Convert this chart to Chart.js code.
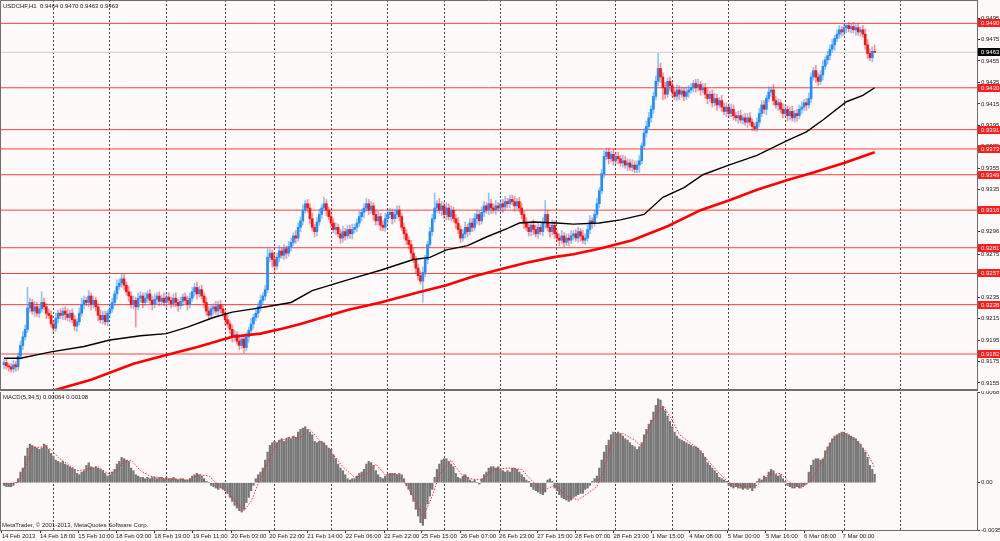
<!DOCTYPE html>
<html>
<head>
<meta charset="utf-8">
<script src="https://cdn.jsdelivr.net/npm/chart.js@4.4.1/dist/chart.umd.min.js"></script>
<style>
html, body { margin: 0; padding: 0; background: #fffafa; }
#wrap { position: relative; width: 1000px; height: 541px; overflow: hidden; }
#topBox { position: absolute; left: 0; top: 0; width: 1000px; height: 391px; }
#botBox { position: absolute; left: 0; top: 391px; width: 1000px; height: 150px; }
</style>
</head>
<body>
<div id="wrap">
  <div id="topBox"><canvas id="price"></canvas></div>
  <div id="botBox"><canvas id="macd"></canvas></div>
</div>
<script>
// texts
const symbolTitle = 'USDCHF,H1  0.9464 0.9470 0.9463 0.9463';
const macdTitle = 'MACD(5,34,5) 0.00064 0.00108';
const credit = 'MetaTrader, \u00a9 2001-2013, MetaQuotes Software Corp.';

// hourly candles, prices in pips (9172 = 0.9172), open = previous close
const firstOpen = 9172;
const closes = [
  9174,9171,9170,9168,9172,9170,9180,9190,9198,9205,9225,9230,9222,9226,9220,9224,9230,9226,9220,9218,
  9210,9206,9215,9220,9218,9222,9219,9216,9220,9214,9208,9212,9220,9228,9232,9230,9236,9228,9232,9226,
  9218,9214,9218,9212,9220,9224,9230,9238,9245,9248,9252,9246,9240,9236,9228,9232,9226,9234,9236,9230,
  9234,9238,9232,9228,9233,9236,9231,9234,9230,9235,9232,9229,9234,9230,9227,9231,9235,9232,9228,9234,
  9240,9244,9238,9242,9236,9230,9222,9218,9224,9226,9222,9228,9224,9220,9214,9210,9205,9198,9200,9194,
  9190,9196,9188,9198,9204,9210,9216,9220,9226,9232,9236,9242,9272,9276,9270,9264,9272,9278,9274,9280,
  9276,9282,9286,9292,9290,9300,9306,9316,9322,9318,9308,9300,9296,9305,9312,9318,9322,9316,9310,9304,
  9298,9300,9294,9290,9296,9292,9298,9294,9298,9300,9304,9310,9314,9318,9322,9316,9320,9312,9306,9310,
  9302,9300,9308,9312,9314,9308,9312,9316,9310,9300,9294,9288,9284,9276,9270,9262,9255,9250,9258,9270,
  9284,9296,9308,9318,9322,9316,9320,9312,9318,9310,9316,9308,9304,9298,9290,9294,9300,9296,9304,9300,
  9308,9312,9306,9314,9320,9316,9322,9318,9316,9320,9318,9322,9319,9324,9322,9326,9324,9320,9324,9318,
  9312,9304,9300,9296,9302,9298,9294,9300,9296,9304,9312,9300,9296,9302,9294,9290,9288,9292,9286,9290,
  9288,9292,9294,9290,9296,9292,9288,9290,9298,9306,9304,9312,9322,9334,9350,9366,9370,9364,9368,9362,
  9366,9364,9360,9362,9358,9360,9356,9358,9354,9358,9362,9376,9388,9394,9402,9410,9422,9436,9448,9440,
  9430,9424,9436,9432,9426,9422,9428,9424,9427,9422,9426,9428,9430,9434,9430,9433,9428,9430,9424,9420,
  9424,9416,9420,9414,9418,9412,9408,9412,9406,9410,9404,9402,9404,9400,9402,9398,9402,9398,9394,9392,
  9398,9406,9414,9410,9420,9426,9428,9418,9414,9416,9410,9406,9410,9404,9408,9402,9406,9404,9410,9412,
  9416,9414,9420,9440,9446,9440,9436,9442,9450,9456,9460,9466,9470,9476,9480,9484,9482,9486,9488,9485,
  9487,9484,9486,9482,9484,9480,9470,9462,9458,9464,9463
];
// shadow above / below the body, pips
const wickUp = [
  3,4,2,3,4,3,3,4,5,4,19,4,3,5,4,3,10,4,3,4,
  4,3,5,3,4,3,4,5,3,4,4,3,5,6,4,3,5,3,4,3,
  3,5,4,4,3,5,4,3,6,4,5,4,3,5,4,4,3,5,4,3,
  5,3,4,4,5,3,4,3,5,4,4,3,4,5,3,4,3,4,4,5,
  4,4,5,3,4,3,5,4,4,3,5,3,4,4,3,5,3,4,4,3,
  5,3,4,4,3,5,3,4,4,5,3,4,8,4,3,6,4,5,3,4,
  3,5,4,3,5,4,4,5,3,4,4,5,3,4,5,3,6,4,3,5,
  4,4,3,4,5,3,4,4,5,3,4,5,3,4,5,4,4,3,4,5,
  3,4,5,4,4,3,5,4,4,3,4,4,3,4,5,3,4,4,5,4,
  3,4,4,14,3,5,4,3,5,4,4,3,4,5,3,4,5,3,4,4,
  5,4,3,5,4,3,10,4,4,5,3,4,4,5,3,4,4,5,3,4,
  4,3,5,4,3,5,4,4,3,5,13,4,3,5,4,3,4,5,3,4,
  4,5,3,4,4,3,5,4,4,5,3,4,5,3,4,5,4,4,3,5,
  4,4,3,5,4,4,3,5,4,4,5,3,4,5,5,4,4,5,14,5,
  4,5,3,4,4,3,5,4,4,3,5,4,4,3,4,5,3,4,4,5,
  3,4,5,4,3,5,4,4,3,5,4,3,4,5,3,4,4,5,3,3,
  4,5,4,4,3,5,3,5,4,4,3,5,4,3,4,5,3,4,4,5,
  3,4,5,4,3,5,4,4,5,3,4,4,5,3,4,4,3,4,2,3,
  3,4,3,4,3,4,5,5,4,4,6
];
const wickDn = [
  4,3,4,3,3,4,3,3,4,3,3,4,3,5,3,4,3,3,5,3,
  3,5,3,4,3,4,5,3,4,3,4,5,3,3,4,3,4,5,3,4,
  5,3,4,3,4,4,3,3,5,3,4,4,3,5,3,4,19,3,4,5,
  3,4,3,5,3,4,4,3,3,5,3,4,3,4,5,3,4,3,5,3,
  3,4,5,3,3,5,4,4,3,5,3,4,4,3,5,3,4,5,4,3,
  4,3,5,3,5,3,4,3,4,4,3,4,3,4,7,5,3,4,3,4,
  5,3,4,3,5,3,4,4,3,4,5,3,5,4,3,4,3,5,3,4,
  3,5,3,5,4,4,3,4,5,3,4,3,4,5,3,4,3,5,4,4,
  5,3,4,4,3,5,3,4,4,3,5,4,4,5,3,5,4,3,20,4,
  4,3,4,3,4,3,5,4,5,3,4,3,5,4,4,3,4,5,3,4,
  3,5,4,3,4,3,4,5,3,4,3,4,5,3,4,4,3,5,3,4,
  4,5,3,4,4,5,3,4,3,4,5,3,5,3,4,3,5,3,4,3,
  5,3,4,3,4,5,3,4,3,4,5,3,3,4,3,4,3,5,3,4,
  3,5,3,4,3,5,3,4,3,3,7,3,3,4,3,4,4,3,4,5,
  11,4,3,5,4,3,4,5,3,4,3,5,3,4,4,3,5,3,4,5,
  3,4,3,5,3,4,3,5,4,3,4,3,5,3,4,3,5,3,4,2,
  3,4,3,4,5,3,4,4,3,5,3,4,3,5,4,3,4,5,3,4,
  3,5,3,4,3,5,4,3,5,3,4,4,3,5,3,4,4,3,5,3,
  4,3,5,3,4,3,4,5,3,4,0
];

// moving averages: [bar, pips]
const maBlack = [[0,9178],[7,9178],[20,9184],[34,9189],[45,9195],[58,9199],[69,9201],[78,9207],[89,9216],[97,9221],
  [106,9224],[114,9227],[122,9230],[131,9241],[146,9251],[160,9260],[174,9270],[181,9272],[188,9279],[197,9283],
  [205,9291],[214,9299],[219,9304],[225,9305],[235,9304],[242,9303],[253,9304],[262,9307],[272,9312],[280,9328],
  [289,9337],[297,9349],[308,9358],[320,9367],[333,9381],[341,9389],[348,9400],[358,9417],[365,9423],[370,9430]];
const maRed = [[21,9148],[37,9158],[55,9173],[69,9181],[83,9189],[97,9198],[109,9201],[119,9206],[126,9210],[146,9223],
  [160,9230],[177,9240],[188,9246],[199,9254],[211,9261],[222,9267],[233,9272],[242,9275],[253,9280],[267,9288],
  [282,9301],[296,9316],[308,9325],[320,9335],[333,9344],[344,9351],[357,9360],[370,9370]];

// horizontal levels
const levels = [0.9490, 0.9430, 0.9391, 0.9373, 0.9349, 0.9316, 0.9281, 0.9257, 0.9228, 0.9182];
const lastPrice = 0.9463;

// MACD histogram per bar, in 0.0001
const macdHist = [
  -2,-3,-3,-3,-2,0,3,8,11,20,26,29,28,27,26,25,26,29,28,25,
  22,20,17,16,15,16,14,13,12,11,10,7,6,8,9,13,15,12,11,12,
  11,10,9,7,5,6,8,10,14,16,19,18,17,16,11,9,6,5,4,4,
  3,4,3,4,4,3,4,4,3,4,3,3,4,3,2,3,3,2,2,3,
  5,6,7,6,5,3,1,0,-2,-3,-4,-5,-4,-5,-6,-8,-11,-14,-17,-19,
  -21,-22,-20,-15,-11,-6,-2,3,6,8,11,17,23,28,30,31,30,32,33,31,
  33,34,33,35,34,38,40,41,42,40,38,36,31,30,31,31,30,28,26,25,
  21,18,14,11,9,6,3,2,3,3,5,7,8,10,14,16,15,13,9,6,
  4,3,5,6,7,7,7,6,7,6,3,-2,-5,-9,-14,-20,-25,-30,-32,-27,
  -16,-10,-5,4,10,14,17,18,18,16,14,12,7,4,3,5,6,4,2,1,
  2,0,-1,3,6,8,11,12,12,11,12,10,9,8,9,8,11,11,10,8,
  6,4,2,1,-3,-5,-6,-7,-8,-9,-7,2,3,1,-4,-6,-9,-11,-12,-13,
  -14,-13,-11,-10,-9,-8,-8,-5,-4,-2,1,3,5,11,17,23,28,32,36,38,
  37,38,37,35,33,32,30,28,27,25,27,30,36,40,44,47,53,58,63,62,
  57,54,50,46,42,38,35,33,32,31,30,29,28,27,27,26,24,22,19,15,
  13,11,9,7,4,3,2,1,-2,-3,-4,-3,-4,-4,-5,-4,-5,-4,-6,-4,
  1,3,2,5,4,8,10,9,6,5,6,3,1,-2,-3,-4,-4,-3,-4,-3,
  -2,-1,8,13,17,18,18,17,18,24,27,30,33,35,36,37,38,38,37,36,
  35,34,33,31,29,26,23,19,13,10,6.4
];
// signal line: [bar, value in 0.0001]
const signalPts = [[0,-1],[6,0],[10,16],[12,26],[17,27],[20,25],[23,19],[27,14],[31,9],[35,10],[40,12],[44,7],[47,8],
  [51,16],[54,17],[58,9],[62,5],[69,3],[78,2],[83,6],[87,5],[92,-3],[97,-11],[102,-21],[105,-14],[108,-1],[112,15],
  [116,30],[121,34],[126,34],[130,40],[134,32],[139,23],[144,12],[149,4],[154,6],[158,14],[162,6],[167,6],[170,1],
  [175,-14],[178,-26],[182,-10],[185,6],[190,17],[194,7],[198,3],[203,2],[208,10],[214,11],[220,10],[224,2],[229,-6],
  [234,-2],[239,-10],[244,-13],[248,-8],[252,-3],[255,9],[258,30],[263,37],[268,32],[271,27],[275,45],[280,58],
  [284,47],[287,36],[294,27],[299,17],[304,7],[308,0],[315,-3],[320,-2],[325,6],[330,7],[334,0],[339,-4],[343,2],
  [348,17],[352,32],[357,37],[362,32],[367,22],[370,11]];

// axes
const priceTicks = [0.9495,0.9475,0.9455,0.9435,0.9415,0.9395,0.9375,0.9355,0.9335,0.9316,0.9296,0.9275,0.9255,0.9235,0.9215,0.9195,0.9175,0.9155];
const macdTicks = [0.00681, 0, -0.00355];
const timeLabels = ['14 Feb 2013','14 Feb 18:00','15 Feb 10:00','18 Feb 03:00','18 Feb 19:00','19 Feb 11:00','20 Feb 03:00',
  '20 Feb 22:00','21 Feb 14:00','22 Feb 06:00','22 Feb 22:00','25 Feb 15:00','26 Feb 07:00','26 Feb 23:00','27 Feb 15:00',
  '28 Feb 07:00','28 Feb 23:00','1 Mar 15:00','4 Mar 08:00','5 Mar 00:00','5 Mar 16:00','6 Mar 08:00','7 Mar 00:00'];
const timeLabelBars = [-1,15.3,31.6,47.6,63.9,80.2,96.5,112.7,128.9,145.2,161.5,177.5,194.1,210.4,226.6,242.7,259,275.3,291.2,307.6,323.8,340,356.3];
const dayBars = [21,45,69,94,115,139,163,187,211,235,260,284,308,332,357,381];

const X_MIN = -1.7, X_MAX = 413.5;
const P_MIN = 0.914754, P_MAX = 0.951177;
const M_MIN = -0.00355, M_MAX = 0.00681;

Chart.defaults.font.family = '"Liberation Sans", Arial, sans-serif';
const FONT = { family: '"Liberation Sans", Arial, sans-serif', size: 6 };
const TXT = '#1a1a1a';
const FRAME = '#6e6e6e';
const BULL = '#1e8fff', BEAR = '#ff1010';

const pip = v => v / 10000;
const opens = closes.map((c, i) => i ? closes[i - 1] : firstOpen);
const isUp = closes.map((c, i) => c >= opens[i]);

const wickData = closes.map((c, i) => ({ x: i, y: [pip(Math.min(opens[i], c) - wickDn[i]), pip(Math.max(opens[i], c) + wickUp[i])] }));
const bodyData = closes.map((c, i) => ({ x: i, y: [pip(opens[i]), pip(c)] }));

function gridAxis() {
  return {
    type: 'linear', position: 'bottom', min: X_MIN, max: X_MAX, offset: false,
    afterBuildTicks: s => { s.ticks = dayBars.map(v => ({ value: v })); },
    ticks: { display: false },
    grid: { offset: false, color: '#4a4a4a', lineWidth: 1, drawTicks: false },
    border: { display: false, dash: [2, 2] },
    afterFit: s => { s.height = 0; s.paddingLeft = 0; s.paddingRight = 0; }
  };
}

function tag(ctx, x, y, text, bg) {
  ctx.fillStyle = bg;
  ctx.fillRect(x, Math.round(y) - 4, 23, 8);
  ctx.fillStyle = '#ffffff';
  ctx.fillText(text, x + 3, Math.round(y) + 0.5);
}

const priceDecor = {
  id: 'priceDecor',
  afterDraw(chart) {
    const { ctx, chartArea: a } = chart;
    const ys = chart.scales.y;
    ctx.save();
    ctx.strokeStyle = FRAME;
    ctx.lineWidth = 1;
    ctx.beginPath();
    ctx.moveTo(0.5, a.bottom); ctx.lineTo(0.5, 0.5); ctx.lineTo(a.right, 0.5);
    ctx.stroke();
    ctx.fillStyle = FRAME;
    ctx.fillRect(0, a.bottom - 2, a.right + 1, 2);
    ctx.font = '6px "Liberation Sans", Arial, sans-serif';
    ctx.textBaseline = 'middle';
    ctx.fillStyle = TXT;
    ctx.fillText(symbolTitle, 3, 6);
    levels.forEach(l => tag(ctx, a.right + 1, ys.getPixelForValue(l), l.toFixed(4), '#ff1c1c'));
    tag(ctx, a.right + 1, ys.getPixelForValue(lastPrice), lastPrice.toFixed(4), '#000000');
    ctx.restore();
  }
};

const macdDecor = {
  id: 'macdDecor',
  afterDraw(chart) {
    const { ctx, chartArea: a } = chart;
    ctx.save();
    ctx.strokeStyle = FRAME;
    ctx.lineWidth = 1;
    ctx.beginPath();
    ctx.moveTo(0.5, a.top); ctx.lineTo(0.5, a.bottom);
    ctx.stroke();
    ctx.font = '6px "Liberation Sans", Arial, sans-serif';
    ctx.textBaseline = 'middle';
    ctx.fillStyle = TXT;
    ctx.fillText(macdTitle, 3, a.top + 5);
    ctx.fillText(credit, 2, a.bottom - 5);
    ctx.restore();
  }
};

new Chart(document.getElementById('price'), {
  type: 'bar',
  data: {
    datasets: [
      ...levels.map(l => ({
        type: 'line', data: [{ x: X_MIN, y: l }, { x: X_MAX, y: l }],
        borderColor: 'rgba(255,30,30,0.85)', borderWidth: 1, pointRadius: 0, order: 6
      })),
      {
        type: 'line', data: [{ x: X_MIN, y: lastPrice }, { x: X_MAX, y: lastPrice }],
        borderColor: '#cfcfcf', borderWidth: 1, pointRadius: 0, order: 6
      },
      {
        label: 'shadow', data: wickData, grouped: false, barThickness: 1, order: 5,
        backgroundColor: isUp.map(u => u ? 'rgba(30,143,255,0.5)' : 'rgba(255,16,16,0.45)')
      },
      {
        label: 'body', data: bodyData, grouped: false, barThickness: 2, minBarLength: 1, order: 4,
        backgroundColor: isUp.map(u => u ? BULL : BEAR)
      },
      {
        type: 'line', data: maRed.map(p => ({ x: p[0], y: pip(p[1]) })),
        borderColor: '#ff0000', borderWidth: 2.6, pointRadius: 0, order: 2
      },
      {
        type: 'line', data: maBlack.map(p => ({ x: p[0], y: pip(p[1]) })),
        borderColor: '#000000', borderWidth: 1.4, pointRadius: 0, order: 1
      }
    ]
  },
  options: {
    responsive: true, maintainAspectRatio: false, animation: false,
    layout: { padding: 0 },
    plugins: { legend: { display: false }, tooltip: { enabled: false } },
    scales: {
      x: gridAxis(),
      y: {
        type: 'linear', position: 'right', min: P_MIN, max: P_MAX,
        afterBuildTicks: s => { s.ticks = priceTicks.map(v => ({ value: v })); },
        ticks: { callback: v => v.toFixed(4), font: FONT, color: TXT, padding: 1, autoSkip: false },
        grid: { drawOnChartArea: false, drawTicks: true, tickLength: 3, tickColor: '#333' },
        border: { display: true, color: FRAME, width: 1 },
        afterFit: s => { s.width = 23; s.paddingTop = 0; s.paddingBottom = 0; }
      }
    }
  },
  plugins: [priceDecor]
});

new Chart(document.getElementById('macd'), {
  type: 'bar',
  data: {
    datasets: [
      {
        label: 'MACD', data: macdHist.map((v, i) => ({ x: i, y: v / 10000 })),
        backgroundColor: '#767676', barThickness: 1.6, grouped: false, order: 3
      },
      {
        type: 'line', label: 'Signal', data: signalPts.map(p => ({ x: p[0], y: p[1] / 10000 })),
        borderColor: '#ff2a2a', borderWidth: 1, borderDash: [1.5, 1.5], pointRadius: 0, order: 1
      }
    ]
  },
  options: {
    responsive: true, maintainAspectRatio: false, animation: false,
    layout: { padding: { top: 1 } },
    plugins: { legend: { display: false }, tooltip: { enabled: false } },
    scales: {
      x: gridAxis(),
      xl: {
        type: 'linear', position: 'bottom', min: X_MIN, max: X_MAX, offset: false,
        afterBuildTicks: s => { s.ticks = timeLabelBars.map(v => ({ value: v })); },
        ticks: {
          callback: (v, i) => timeLabels[i], font: FONT, color: TXT, padding: 0,
          autoSkip: false, maxRotation: 0, minRotation: 0, align: 'start'
        },
        grid: { drawOnChartArea: false, drawTicks: true, tickLength: 3, tickColor: '#333', offset: false },
        border: { display: true, color: FRAME, width: 1 },
        afterFit: s => { s.height = 11; s.paddingLeft = 0; s.paddingRight = 0; }
      },
      y: {
        type: 'linear', position: 'right', min: M_MIN, max: M_MAX,
        afterBuildTicks: s => { s.ticks = macdTicks.map(v => ({ value: v })); },
        ticks: { callback: v => v === 0 ? '0.00' : v.toFixed(5), font: FONT, color: TXT, padding: 1, autoSkip: false },
        grid: { drawOnChartArea: false, drawTicks: true, tickLength: 3, tickColor: '#333' },
        border: { display: true, color: FRAME, width: 1 },
        afterFit: s => { s.width = 23; s.paddingTop = 0; s.paddingBottom = 0; }
      }
    }
  },
  plugins: [macdDecor]
});
</script>
</body>
</html>
